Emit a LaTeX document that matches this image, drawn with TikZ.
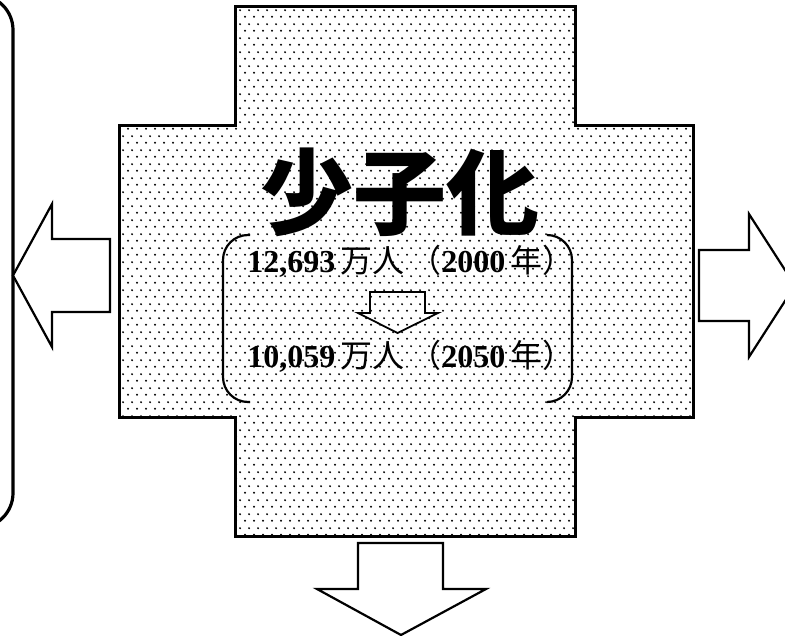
\documentclass[tikz,border=0pt]{standalone}
\usepackage{fontspec}
\setmainfont{Liberation Serif}
\newfontfamily\jp{Noto Sans CJK JP}
\usetikzlibrary{patterns.meta}
\tikzdeclarepattern{
  name=stipple,
  type=uncolored,
  bounding box={(0pt,0pt) and (9pt,14pt)},
  tile size={(9pt,14pt)},
  code={
    \fill (2.25pt,3.5pt) circle (1.15pt);
    \fill (6.75pt,10.5pt) circle (1.15pt);
  }
}
\tikzset{
  outline/.style={draw=black, line width=3pt, line join=miter},
  bigarrow/.style={draw=black, fill=white, line width=2.2pt, line join=miter},
  smallarrow/.style={draw=black, line width=1.8pt, line join=miter},
  bracket/.style={draw=black, line width=2.2pt, rounded corners=25pt},
  sidebox/.style={draw=black, line width=3.2pt, rounded corners=35pt},
  title/.style={font=\jp\bfseries\fontsize{93}{100}\selectfont, anchor=base, inner sep=0pt},
  figline/.style={font=\fontsize{32}{38}\selectfont, anchor=base, inner sep=0pt}
}
\begin{document}
\begin{tikzpicture}[x=1pt,y=-1pt]
\useasboundingbox (0,0) rectangle (785,636);
\clip (0,0) rectangle (785,636);
\fill[white] (0,0) rectangle (785,636);
% side box at left
\draw[sidebox] (-60,-5) rectangle (13,528);
% central cross
\path[outline, pattern=stipple, pattern color=black]
  (235,7) -- (575,7) -- (575,126) -- (693,126) -- (693,418) -- (575,418)
  -- (575,536) -- (235,536) -- (235,418) -- (119,418) -- (119,126) -- (235,126) -- cycle;
% big arrows
\draw[bigarrow] (110,239) -- (110,312) -- (52,312) -- (52,347) -- (13,275.5)
  -- (52,204) -- (52,239) -- cycle;
\draw[bigarrow] (699,250) -- (749,250) -- (749,214) -- (795,285.5) -- (749,357)
  -- (749,321) -- (699,321) -- cycle;
\draw[bigarrow] (358,543) -- (443,543) -- (443,589) -- (486,589) -- (401,635)
  -- (317,589) -- (358,589) -- cycle;
% title
\node[title] (ttl) at (400,228) {少子化};
% brackets
\draw[bracket] (250,235) -- (223,235) -- (223,402) -- (250,402);
\draw[bracket] (547,235) -- (572,235) -- (572,402) -- (547,402);
% population lines
\node[figline] (p2000) at (411,273) {\bfseries 12,693\,{\jp\mdseries 万人\hspace{0.15em}（}2000\,{\jp\mdseries 年）}};
\node[figline] (p2050) at (411,368) {\bfseries 10,059\,{\jp\mdseries 万人\hspace{0.15em}（}2050\,{\jp\mdseries 年）}};
% small arrow between the lines
\draw[smallarrow] (370,292) -- (425,292) -- (425,313) -- (438,313) -- (397.5,333)
  -- (358,313) -- (370,313) -- cycle;
\end{tikzpicture}
\end{document}
